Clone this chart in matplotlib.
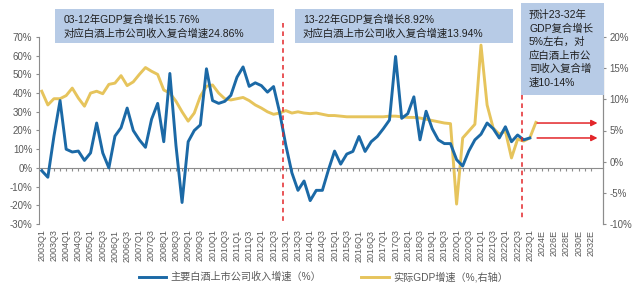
import matplotlib
matplotlib.use("Agg")
import matplotlib.pyplot as plt
from matplotlib.patches import Rectangle

plt.rcParams["font.family"] = ["Liberation Sans", "Noto Sans CJK SC", "DejaVu Sans"]

# ---------- data ----------
quarters = [f"{y}Q{q}" for y in range(2003, 2024) for q in range(1, 5)][:82]
years_e = [f"{y}E" for y in range(2024, 2033)]
categories = quarters + years_e

liquor_rev = [-1.5, -5, 17, 36, 10, 8.5, 9, 4, 8, 24, 8, 0, 17, 21.5, 32, 20,
              15, 11, 26, 34.5, 14, 50.5, 12, -18.5, 14, 20, 23, 53, 36, 34.5,
              35.6, 38.8, 48.5, 54, 43.6, 45.5, 44, 40.5, 43.5, 29.6, 12.3, -2.6,
              -12, -7, -17.5, -12, -12, -1, 9, 2, 7.4, 8.8, 16.8, 8.8, 14, 16.8,
              21, 25.6, 59.6, 26.5, 29, 38, 15, 30.3, 21, 15, 13, 13, 4.4, 1,
              9, 15, 18, 24, 21, 16, 22, 14, 17.6, 15, 16]

gdp = [11.3, 9.1, 10.1, 10.1, 10.6, 11.8, 10.2, 8.9, 11.0, 11.3, 10.9, 12.4,
       12.6, 13.8, 12.2, 12.8, 14.0, 15.1, 14.5, 14.0, 11.5, 11.0, 9.7, 8.0,
       6.5, 7.8, 10.5, 12.1, 12.3, 11.0, 10.1, 9.9, 10.1, 10.3, 9.8, 9.1,
       8.6, 8.0, 7.6, 7.8, 8.2, 7.8, 8.0, 7.8, 7.7, 7.8, 7.6, 7.4, 7.4, 7.3,
       7.2, 7.2, 7.2, 7.2, 7.2, 7.2, 7.2, 7.3, 7.3, 7.2, 7.1, 7.1, 7.0, 6.8,
       6.6, 6.4, 6.2, 6.1, -6.8, 3.8, 4.9, 6.0, 18.7, 9.1, 5.4, 4.4, 4.9,
       0.6, 3.6, 3.3, 3.8, 6.3]

split_pos = [39.5, 78.7]          # period separators (category index)
arrow_levels = [6.2, 3.8]         # forecast GDP range, right axis (%)
arrow_span = (81.2, 91.1)

BLUE = "#1b69a6"
GOLD = "#e6c45c"
RED = "#e3262a"
BOX = "#b7cbe6"
GREY = "#8c8c8c"
TXT = "#595959"

fig = plt.figure(figsize=(6.4, 2.92), dpi=100)
ax = fig.add_axes([38.7 / 640, 1 - 224 / 292, (603 - 38.7) / 640, 187 / 292])
ax2 = ax.twinx()

x_rev = range(len(liquor_rev))
x_gdp = range(len(gdp))
l1, = ax.plot(x_rev, liquor_rev, color=BLUE, lw=2.1, solid_joinstyle="round",
              label="主要白酒上市公司收入增速（%）", zorder=3)
l2, = ax2.plot(x_gdp, gdp, color=GOLD, lw=2.1, solid_joinstyle="round",
               label="实际GDP增速（%,右轴）", zorder=2)
ax.set_zorder(ax2.get_zorder() + 1)
ax.patch.set_visible(False)

ax.set_xlim(-0.5, 92)
ax.set_ylim(-30, 70)
ax2.set_ylim(-10, 20)
ax.set_yticks(range(-30, 71, 10))
ax.set_yticklabels([f"{v}%" for v in range(-30, 71, 10)])
ax2.set_yticks(range(-10, 21, 5))
ax2.set_yticklabels([f"{v}%" for v in range(-10, 21, 5)])

ticks = list(range(0, len(categories), 2))
ax.set_xticks(ticks)
ax.set_xticklabels([categories[i] for i in ticks], rotation=90, fontsize=6.5, color=TXT)
ax.tick_params(axis="x", length=0, pad=4)
ax.tick_params(axis="y", labelsize=7, colors=TXT, length=2.5, color=GREY, pad=2)
ax2.tick_params(axis="y", labelsize=7, colors=TXT, length=2.5, color=GREY, pad=2)

for a in (ax, ax2):
    a.spines["top"].set_visible(False)
    a.spines["bottom"].set_visible(False)
    a.spines["left"].set_color(GREY)
    a.spines["right"].set_color(GREY)
ax2.spines["left"].set_visible(False)

# zero line with a small tick at every category
zero = ax.secondary_xaxis(0.3)
zero.set_xticks(range(len(categories)))
zero.set_xticklabels([])
zero.tick_params(length=2, color=GREY, direction="out")
zero.spines["bottom"].set_color(GREY)

# period separators
trans = ax.get_xaxis_transform()
ax.plot([split_pos[0]] * 2, [1.075, 0.005], transform=trans, color=RED, lw=1.1,
        ls=(0, (3, 2.5)), clip_on=False, zorder=4)
ax.plot([split_pos[1]] * 2, [0.69, 0.02], transform=trans, color=RED, lw=1.1,
        ls=(0, (3, 2.5)), clip_on=False, zorder=4)

for lv in arrow_levels:
    ax2.annotate("", xy=(arrow_span[1], lv), xytext=(arrow_span[0], lv),
                 arrowprops=dict(arrowstyle="-|>", color=RED, lw=1.1,
                                 mutation_scale=9, shrinkA=0, shrinkB=0),
                 annotation_clip=False)

# annotation boxes (figure pixels -> fraction)
def box(x0, y0, x1, y1):
    fig.patches.append(Rectangle((x0 / 640, 1 - y1 / 292), (x1 - x0) / 640, (y1 - y0) / 292,
                                 transform=fig.transFigure, facecolor=BOX,
                                 edgecolor="none", zorder=5))

def lines(x, y0, step, rows):
    for k, s in enumerate(rows):
        fig.text(x / 640, 1 - (y0 + k * step) / 292, s, fontsize=7.5, color="#1f1f1f",
                 va="center", ha="left", zorder=6)

box(55, 9, 274, 43)
lines(64, 20, 13.5, ["03-12年GDP复合增长15.76%", "对应白酒上市公司收入复合增速24.86%"])
box(295, 9, 513, 43)
lines(303, 20, 13.5, ["13-22年GDP复合增长8.92%", "对应白酒上市公司收入复合增速13.94%"])
box(521, 3, 604, 95)
lines(529, 15, 13.5, ["预计23-32年", "GDP复合增长", "5%左右，对", "应白酒上市公",
                      "司收入复合增", "速10-14%"])

leg = fig.legend(handles=[l1, l2], loc="center", bbox_to_anchor=(0.505, 0.052),
                 ncol=2, frameon=False, fontsize=7.3, handlelength=2.7,
                 columnspacing=4.0, handletextpad=0.4)
for t in leg.get_texts():
    t.set_color(TXT)

fig.savefig("out.png", dpi=100)
